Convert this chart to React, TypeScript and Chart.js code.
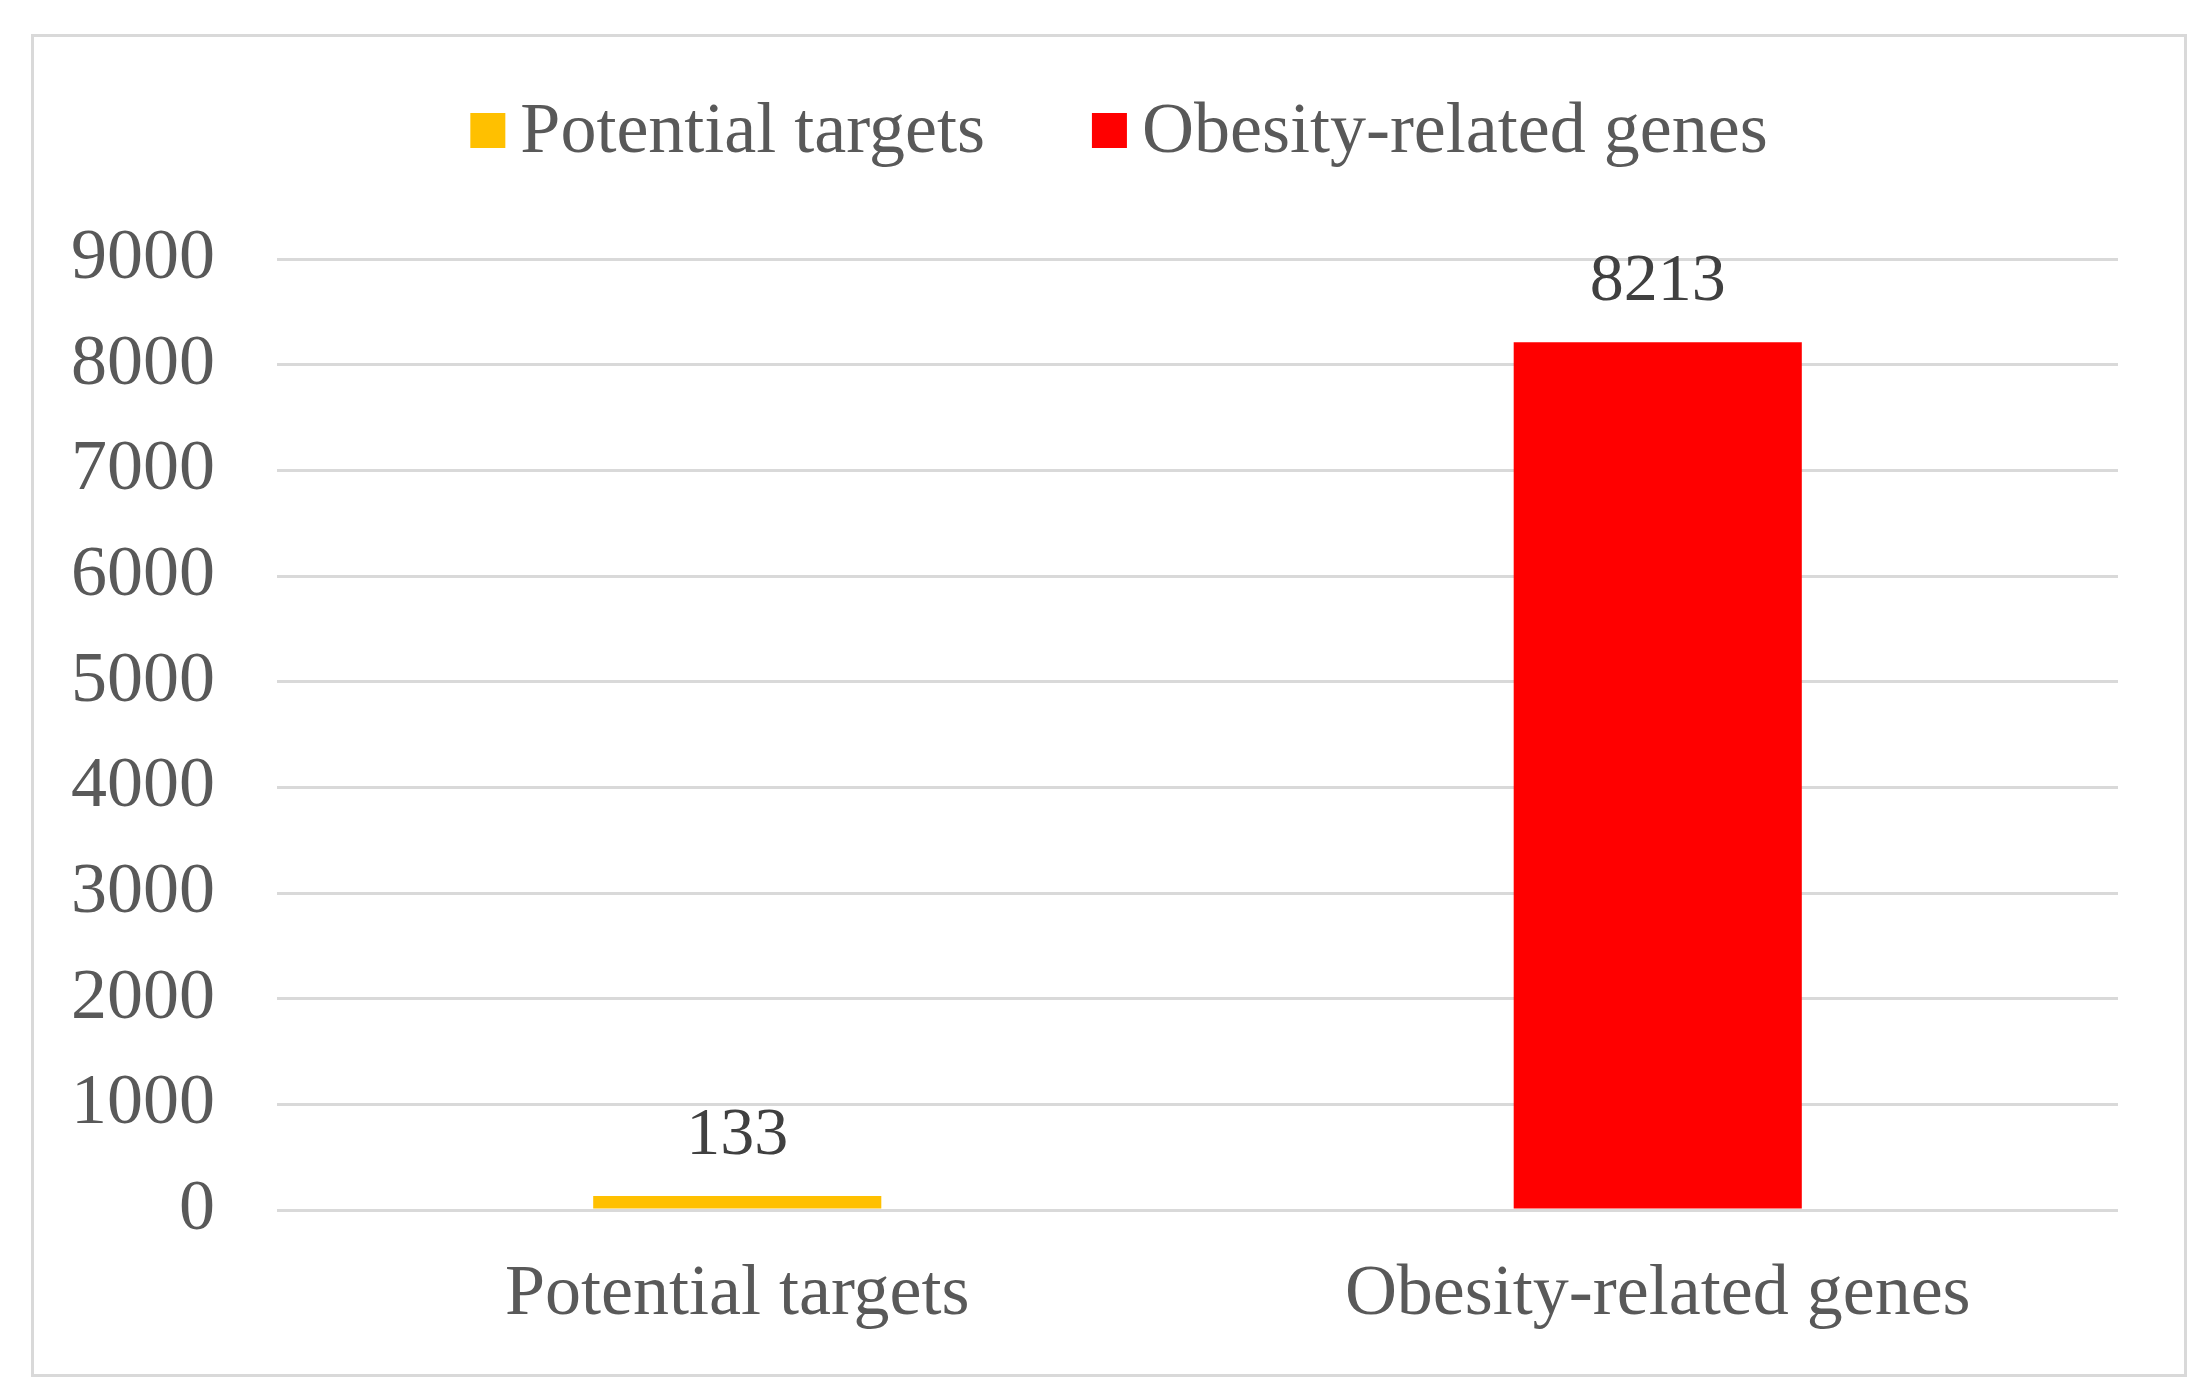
import React, { useEffect, useRef } from "react";
import { Chart, registerables } from "chart.js";

Chart.register(...registerables);

const categories = ["Potential targets", "Obesity-related genes"];
const values = [133, 8213];
const barColors = ["#FFC000", "#FF0000"];
const yMin = 0;
const yMax = 9000;
const yStep = 1000;

const FONT = "'Liberation Serif', 'Times New Roman', serif";
const TEXT = "#595959";
const GRID = "#D9D9D9";

const valueLabels = {
  id: "valueLabels",
  afterDatasetsDraw(chart: any) {
    const ctx = chart.ctx;
    const meta = chart.getDatasetMeta(0);
    ctx.save();
    ctx.font = `68px ${FONT}`;
    ctx.fillStyle = "#404040";
    ctx.textAlign = "center";
    ctx.textBaseline = "alphabetic";
    meta.data.forEach((el: any, i: number) => {
      ctx.fillText(String(values[i]), el.x, el.y - 42);
    });
    ctx.restore();
  },
};

const customLegend = {
  id: "customLegend",
  afterDraw(chart: any) {
    const ctx = chart.ctx;
    ctx.save();
    ctx.font = `72px ${FONT}`;
    const box = 35;
    const gap = 15;
    const itemGap = 107;
    const widths = categories.map((c) => ctx.measureText(c).width);
    const total =
      widths.reduce((s, w) => s + box + gap + w, 0) + itemGap * (categories.length - 1);
    let x = 1119 - total / 2;
    const baseline = 152;
    categories.forEach((c, i) => {
      ctx.fillStyle = barColors[i];
      ctx.fillRect(x, 113, box, box);
      x += box + gap;
      ctx.fillStyle = TEXT;
      ctx.textAlign = "left";
      ctx.textBaseline = "alphabetic";
      ctx.fillText(c, x, baseline);
      x += widths[i] + itemGap;
    });
    ctx.restore();
  },
};

export default function App() {
  const canvasRef = useRef<HTMLCanvasElement | null>(null);

  useEffect(() => {
    if (!canvasRef.current) return;
    const chart = new Chart(canvasRef.current, {
      type: "bar",
      data: {
        labels: categories,
        datasets: [
          {
            label: "Count",
            data: values,
            backgroundColor: barColors,
            borderWidth: 0,
            categoryPercentage: 1,
            barPercentage: 0.313,
          },
        ],
      },
      options: {
        animation: false,
        responsive: false,
        devicePixelRatio: 1,
        layout: {
          padding: { left: 71, right: 90, top: 259, bottom: 62 },
        },
        plugins: {
          legend: { display: false },
          tooltip: { enabled: false },
          title: { display: false },
        },
        scales: {
          x: {
            grid: { display: false, drawTicks: false },
            border: { display: false },
            ticks: {
              color: TEXT,
              font: { family: FONT, size: 72 },
              padding: 42,
              maxRotation: 0,
              autoSkip: false,
            },
            afterFit: (scale: any) => {
              scale.height = 128;
            },
          },
          y: {
            min: yMin,
            max: yMax,
            grid: { color: GRID, lineWidth: 3, drawTicks: false },
            border: { display: false },
            ticks: {
              stepSize: yStep,
              color: TEXT,
              font: { family: FONT, size: 72 },
              padding: 62,
              callback: (v: any) => String(v),
            },
            afterFit: (scale: any) => {
              scale.width = 206;
            },
          },
        },
      },
      plugins: [valueLabels, customLegend],
    } as any);
    return () => chart.destroy();
  }, []);

  return (
    <div
      style={{
        position: "absolute",
        left: 0,
        top: 0,
        width: 2208,
        height: 1400,
        background: "#FFFFFF",
        overflow: "hidden",
      }}
    >
      <div
        style={{
          position: "absolute",
          left: 31,
          top: 34,
          width: 2156,
          height: 1343,
          border: "3px solid #D9D9D9",
          boxSizing: "border-box",
        }}
      />
      <canvas
        ref={canvasRef}
        width={2208}
        height={1400}
        style={{ position: "absolute", left: 0, top: 0, width: 2208, height: 1400, display: "block" }}
      />
    </div>
  );
}
